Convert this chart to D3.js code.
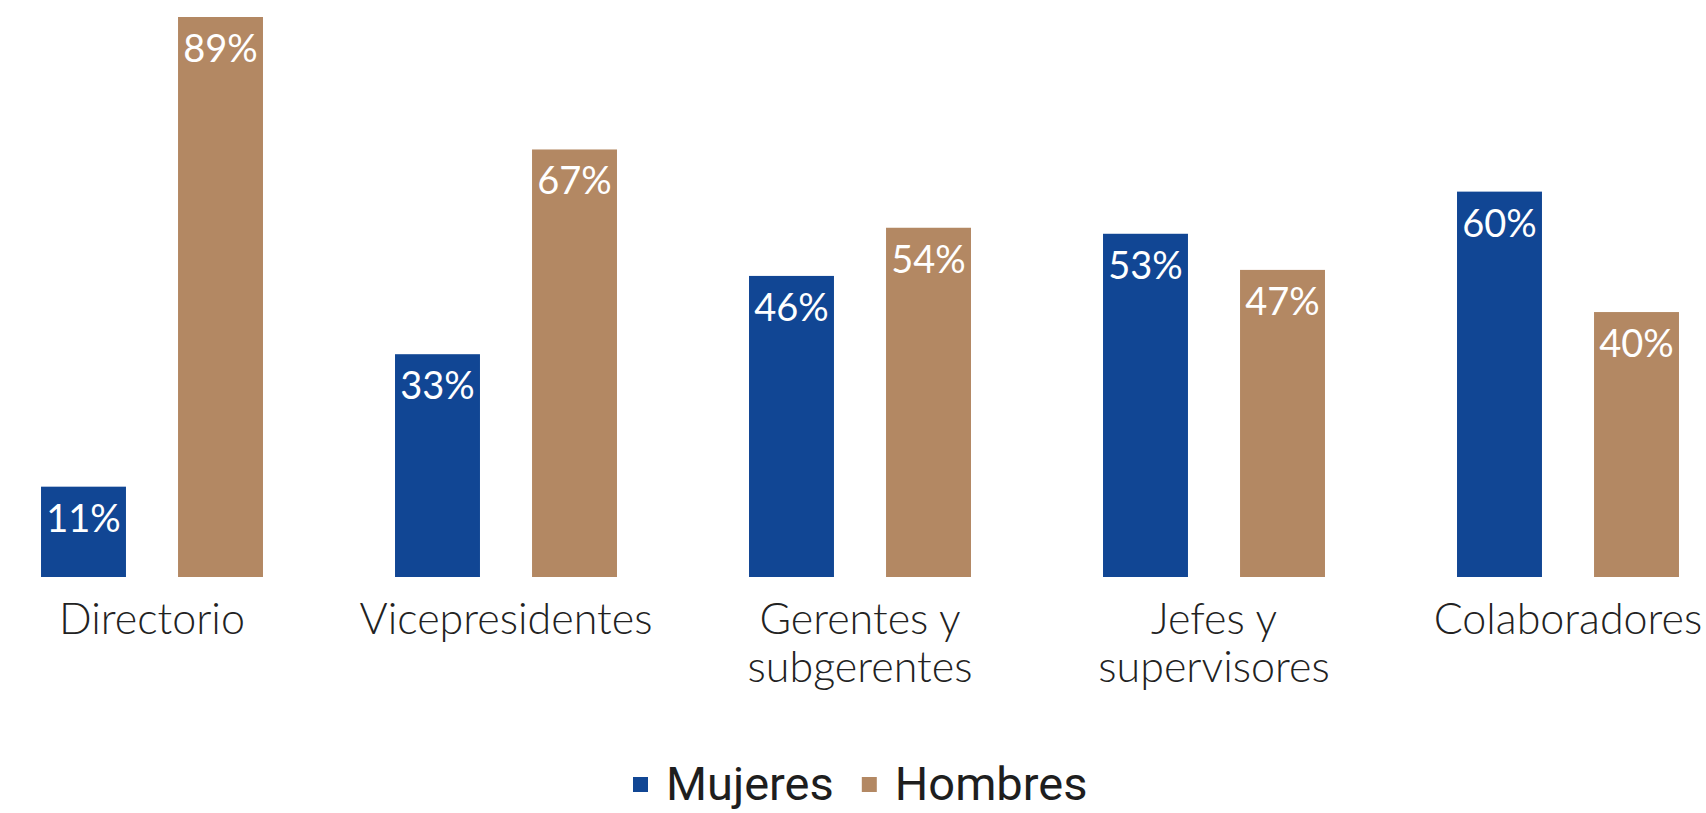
<!DOCTYPE html>
<html>
<head>
<meta charset="utf-8">
<script src="https://cdn.jsdelivr.net/npm/d3@7"></script>
<style>
  body { margin: 0; background: #fff; }
  svg { display: block; }
</style>
</head>
<body>
<div id="chart"></div>
<script>
var width = 1706;
var height = 813;

// data
var categories = ["Directorio", "Vicepresidentes", "Gerentes y\nsubgerentes", "Jefes y\nsupervisores", "Colaboradores"];
var series = ["Mujeres", "Hombres"];
var mujeres = [11, 33, 46, 53, 60];
var hombres = [89, 67, 54, 47, 40];

var colors = { "Mujeres": "#114694", "Hombres": "#b38863" };

var data = categories.map(function(c, i) {
    return { cat: c, values: [
        { key: "Mujeres", value: mujeres[i] },
        { key: "Hombres", value: hombres[i] }
    ]};
});

var svg = d3.select("#chart")
    .append("svg")
    .attr("width", width)
    .attr("height", height);

// the plot runs a little past both edges of the picture
var x0 = d3.scaleBand()
    .domain(categories)
    .range([-25, 1745])
    .paddingInner(0.373)
    .paddingOuter(0.1865);

var x1 = d3.scaleBand()
    .domain(series)
    .range([0, x0.bandwidth()])
    .paddingInner(0.38)
    .paddingOuter(0);

var y = d3.scaleLinear()
    .domain([-4, 89])
    .range([577, 17]);

var groups = svg.append("g")
    .selectAll("g")
    .data(data)
    .enter()
    .append("g")
        .attr("transform", d => "translate(" + x0(d.cat) + ",0)");

groups.selectAll("rect")
    .data(d => d.values)
    .enter()
    .append("rect")
        .attr("x", d => x1(d.key))
        .attr("y", d => y(d.value))
        .attr("width", x1.bandwidth())
        .attr("height", d => y(-4) - y(d.value))
        .style("fill", d => colors[d.key]);

groups.selectAll("text.val")
    .data(d => d.values)
    .enter()
    .append("text")
        .attr("class", "val")
        .attr("x", d => x1(d.key) + x1.bandwidth() / 2)
        .attr("y", d => y(d.value) + 45)
        .attr("text-anchor", "middle")
        .style("font-family", "Lato, sans-serif")
        .style("font-size", "38px")
        .style("fill", "#fff")
        .text(d => d.value + "%");

// category labels, split on line breaks
var catLabels = svg.append("g")
    .selectAll("text")
    .data(categories)
    .enter()
    .append("text")
        .attr("x", d => x0(d) + x0.bandwidth() / 2)
        .attr("y", 634)
        .attr("text-anchor", "middle")
        .style("font-family", "Lato, sans-serif")
        .style("font-weight", 300)
        .style("font-size", "43px")
        .style("fill", "#222");

catLabels.selectAll("tspan")
    .data(d => d.split("\n"))
    .enter()
    .append("tspan")
        .attr("x", function() { return d3.select(this.parentNode).attr("x"); })
        .attr("dy", (d, i) => i === 0 ? 0 : 48)
        .text(d => d);

// legend
var legend = svg.append("g");
var lx = 633;
series.forEach(function(s) {
    legend.append("rect")
        .attr("x", lx)
        .attr("y", 777)
        .attr("width", 15)
        .attr("height", 15)
        .style("fill", colors[s]);
    var t = legend.append("text")
        .attr("x", lx + 33)
        .attr("y", 800)
        .style("font-family", "Roboto, sans-serif")
        .style("font-weight", 400)
        .style("font-size", "47px")
        .style("fill", "#1e1e1e")
        .text(s);
    lx += 33 + t.node().getComputedTextLength() + 28;
});
</script>
</body>
</html>
